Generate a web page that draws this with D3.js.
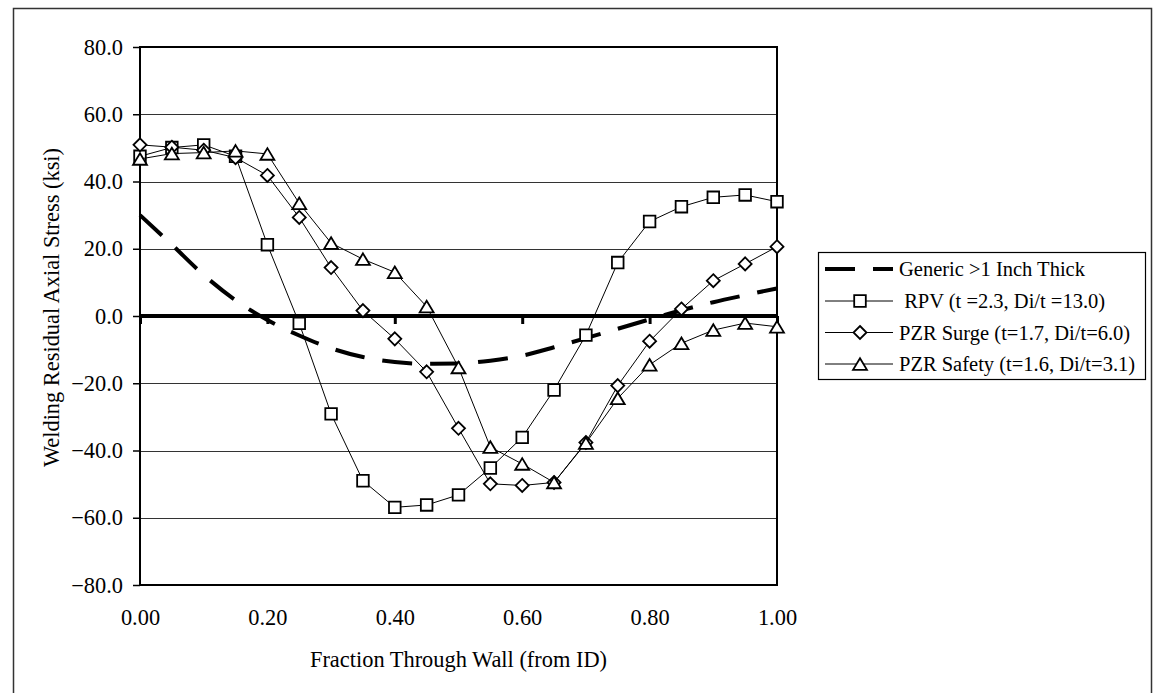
<!DOCTYPE html>
<html>
<head>
<meta charset="utf-8">
<script src="https://cdn.jsdelivr.net/npm/d3@7"></script>
<style>
    body { margin: 0; background: #fff; }
    text { font-family: "Liberation Serif", "Times New Roman", serif; fill: #000; }
</style>
</head>
<body>
<div id="chart"></div>
<script>
// data
var fractions = [0.00, 0.05, 0.10, 0.15, 0.20, 0.25, 0.30, 0.35, 0.40, 0.45, 0.50,
                 0.55, 0.60, 0.65, 0.70, 0.75, 0.80, 0.85, 0.90, 0.95, 1.00];
var genericStress = [30.0, 21.2, 12.2, 4.7, -1.2, -5.8, -9.6, -12.2, -13.7, -14.2, -14.1,
                     -13.3, -11.8, -9.3, -6.6, -3.8, -1.0, 1.7, 4.1, 6.2, 8.2];
var rpvStress = [47.5, 50.1, 50.9, 47.5, 21.2, -2.2, -29.1, -49.0, -56.9, -56.2, -53.2,
                 -45.2, -36.1, -22.0, -5.7, 15.9, 28.1, 32.5, 35.3, 36.0, 34.0];
var surgeStress = [50.9, 50.2, 49.3, 47.1, 41.8, 29.3, 14.4, 1.6, -6.8, -16.6, -33.4,
                   -49.9, -50.4, -49.5, -37.6, -20.7, -7.5, 2.1, 10.5, 15.5, 20.6];
var safetyStress = [46.7, 48.3, 48.6, 49.1, 48.2, 33.5, 21.7, 16.9, 13.0, 2.8, -15.3,
                    -39.0, -44.0, -49.5, -37.8, -24.5, -14.5, -8.1, -4.2, -2.1, -3.2];
var xTicks = [0, 0.2, 0.4, 0.6, 0.8, 1.0];
var yTicks = [-80, -60, -40, -20, 0, 20, 40, 60, 80];
var seriesNames = ["Generic >1 Inch Thick", " RPV (t =2.3, Di/t =13.0)",
                   "PZR Surge (t=1.7, Di/t=6.0)", "PZR Safety (t=1.6, Di/t=3.1)"];

var W = 1153, H = 693;
var plot = { left: 140, right: 777, top: 47, bottom: 585 };

var svg = d3.select("#chart").append("svg")
    .attr("width", W)
    .attr("height", H);

svg.append("rect").attr("width", W).attr("height", H).attr("fill", "#fff");

// outer chart frame
svg.append("rect")
    .attr("x", 13.5).attr("y", 8.5)
    .attr("width", 1138).attr("height", 720)
    .attr("fill", "none")
    .attr("stroke", "#333")
    .attr("stroke-width", 1.5);

var x = d3.scaleLinear().domain([0, 1]).range([plot.left, plot.right]);
var y = d3.scaleLinear().domain([-80, 80]).range([plot.bottom, plot.top]);

// gridlines
svg.append("g")
    .selectAll("line")
    .data(yTicks.filter(d => d !== 0 && d !== 80 && d !== -80))
    .enter().append("line")
    .attr("x1", plot.left).attr("x2", plot.right)
    .attr("y1", d => Math.round(y(d)) + 0.5)
    .attr("y2", d => Math.round(y(d)) + 0.5)
    .attr("stroke", "#333")
    .attr("stroke-width", 1);

// plot border
svg.append("rect")
    .attr("x", plot.left).attr("y", plot.top)
    .attr("width", plot.right - plot.left)
    .attr("height", plot.bottom - plot.top)
    .attr("fill", "none")
    .attr("stroke", "#000")
    .attr("stroke-width", 2);

// y axis
var yAxis = svg.append("g")
    .attr("transform", "translate(" + plot.left + ",0)")
    .call(d3.axisLeft(y).tickValues(yTicks).tickSize(7).tickPadding(10).tickFormat(d3.format(".1f")));
yAxis.select(".domain").remove();
yAxis.selectAll("line").attr("stroke-width", 1.5);
yAxis.selectAll("text").style("font-size", "22.4px").attr("font-family", null);

// x axis line at zero with downward ticks
var zeroAxis = svg.append("g")
    .attr("transform", "translate(0," + y(0) + ")")
    .call(d3.axisBottom(x).tickValues(xTicks).tickSize(8).tickFormat(""));
zeroAxis.select(".domain").attr("stroke-width", 4).attr("d", "M" + plot.left + ",0H" + plot.right);
zeroAxis.selectAll("line").attr("stroke-width", 3);

// x tick labels at the bottom
var xLabels = svg.append("g")
    .attr("transform", "translate(0," + plot.bottom + ")")
    .call(d3.axisBottom(x).tickValues(xTicks).tickSize(0).tickPadding(24).tickFormat(d3.format(".2f")));
xLabels.select(".domain").remove();
xLabels.selectAll("text").style("font-size", "22.4px").attr("font-family", null);

// axis titles
svg.append("text")
    .attr("x", (plot.left + plot.right) / 2)
    .attr("y", 667)
    .attr("text-anchor", "middle")
    .style("font-size", "22.4px")
    .text("Fraction Through Wall (from ID)");

svg.append("text")
    .attr("transform", "translate(59,307.5) rotate(-90)")
    .attr("text-anchor", "middle")
    .style("font-size", "22.4px")
    .text("Welding Residual Axial Stress (ksi)");

// marker shapes
function squarePath(s) { return "M" + (-s) + "," + (-s) + "H" + s + "V" + s + "H" + (-s) + "Z"; }
function diamondPath(s) { return "M0," + (-s) + "L" + s + ",0L0," + s + "L" + (-s) + ",0Z"; }
function trianglePath(s) { return "M0," + (-s) + "L" + (s * 1.2) + "," + s + "H" + (-s * 1.2) + "Z"; }

var series = [
    { name: seriesNames[1], values: rpvStress, marker: () => squarePath(5.8) },
    { name: seriesNames[2], values: surgeStress, marker: () => diamondPath(6.5) },
    { name: seriesNames[3], values: safetyStress, marker: () => trianglePath(5.8) }
];

var line = d3.line()
    .x(d => x(d[0]))
    .y(d => y(d[1]));

// generic dashed curve
svg.append("path")
    .datum(fractions.map((f, i) => [f, genericStress[i]]))
    .attr("fill", "none")
    .attr("stroke", "#000")
    .attr("stroke-width", 4)
    .attr("stroke-dasharray", "30,18")
    .attr("d", line.curve(d3.curveMonotoneX));

line.curve(d3.curveLinear);

series.forEach(function (s) {
    var pts = fractions.map((f, i) => [f, s.values[i]]);
    svg.append("path")
        .datum(pts)
        .attr("fill", "none")
        .attr("stroke", "#000")
        .attr("stroke-width", 1)
        .attr("d", line);
    svg.append("g")
        .selectAll("path")
        .data(pts)
        .enter().append("path")
        .attr("transform", d => "translate(" + x(d[0]) + "," + y(d[1]) + ")")
        .attr("d", s.marker)
        .attr("fill", "#fff")
        .attr("stroke", "#000")
        .attr("stroke-width", 1.8);
});

// legend
var legend = svg.append("g");
legend.append("rect")
    .attr("x", 818.5).attr("y", 252.5)
    .attr("width", 327).attr("height", 127)
    .attr("fill", "#fff")
    .attr("stroke", "#000")
    .attr("stroke-width", 1.2);

var rowY = [269, 301, 332.5, 364];

legend.append("line")
    .attr("x1", 825).attr("x2", 893)
    .attr("y1", rowY[0]).attr("y2", rowY[0])
    .attr("stroke", "#000")
    .attr("stroke-width", 4)
    .attr("stroke-dasharray", "30,18");

series.forEach(function (s, i) {
    var ly = rowY[i + 1];
    legend.append("line")
        .attr("x1", 825).attr("x2", 893)
        .attr("y1", ly).attr("y2", ly)
        .attr("stroke", "#000")
        .attr("stroke-width", 1);
    legend.append("path")
        .attr("transform", "translate(860," + ly + ")")
        .attr("d", s.marker())
        .attr("fill", "#fff")
        .attr("stroke", "#000")
        .attr("stroke-width", 1.8);
});

legend.selectAll(".legend-text")
    .data(seriesNames)
    .enter().append("text")
    .attr("class", "legend-text")
    .attr("x", 899)
    .attr("y", (d, i) => rowY[i])
    .attr("dy", "0.35em")
    .style("font-size", "20.5px")
    .style("white-space", "pre")
    .text(d => d);
</script>
</body>
</html>
